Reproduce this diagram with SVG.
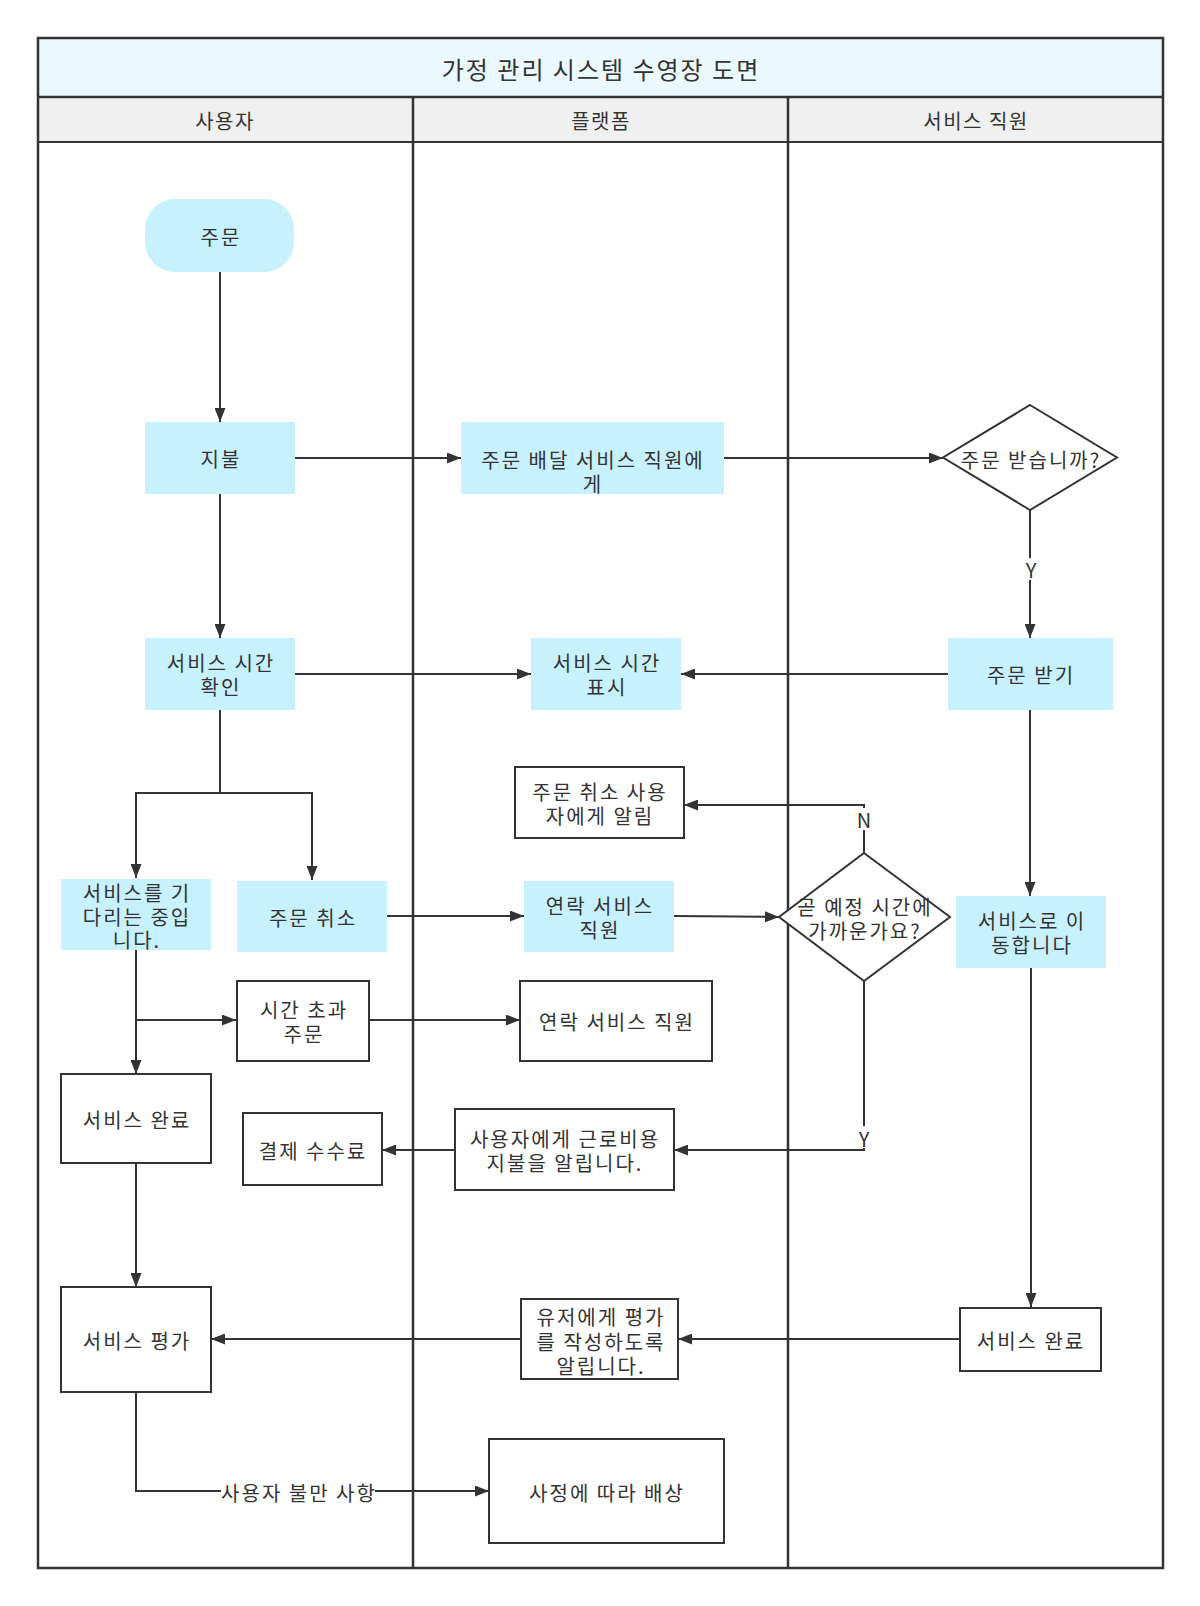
<svg xmlns="http://www.w3.org/2000/svg" width="1200" height="1606" viewBox="0 0 1200 1606">
<defs>
<marker id="ah" viewBox="0 0 14 11" refX="14" refY="5.5" markerWidth="14" markerHeight="11" markerUnits="userSpaceOnUse" orient="auto">
<path d="M0,0 L14,5.5 L0,11 z" fill="#333"/>
</marker>
</defs>
<style>
text{font-family:"Noto Sans CJK KR","Noto Sans",sans-serif;fill:#333;text-anchor:middle;dominant-baseline:central;font-size:20px;letter-spacing:2px}
.t{font-size:24px;letter-spacing:2px}
.h{font-size:20px;letter-spacing:1.5px}
.blue{fill:#c7f1fe;stroke:none}
.box{fill:#fff;stroke:#333;stroke-width:2}
.dia{fill:#fff;stroke:#333;stroke-width:2}
.c{fill:none;stroke:#333;stroke-width:2}
.a{fill:none;stroke:#333;stroke-width:2;marker-end:url(#ah)}
.lbl{fill:#fff;stroke:none}
</style>
<rect width="1200" height="1606" fill="#fff"/>
<g id="pool">
<rect x="38" y="38" width="1125" height="59" fill="#ebf8fd"/>
<rect x="38" y="97" width="1125" height="45" fill="#f0f0f0"/>
<rect x="38" y="38" width="1125" height="1530" fill="none" stroke="#333" stroke-width="2.5"/>
<line x1="38" y1="97" x2="1163" y2="97" stroke="#333" stroke-width="2.5"/>
<line x1="38" y1="142" x2="1163" y2="142" stroke="#333" stroke-width="2"/>
<line x1="413" y1="97" x2="413" y2="1568" stroke="#333" stroke-width="2.5"/>
<line x1="788" y1="97" x2="788" y2="1568" stroke="#333" stroke-width="2.5"/>
<text class="t" x="601" y="68">가정 관리 시스템 수영장 도면</text>
<text class="h" x="225" y="120">사용자</text>
<text class="h" x="601" y="120">플랫폼</text>
<text class="h" x="976" y="120">서비스 직원</text>
</g>
<g id="connectors">
<line class="a" x1="220" y1="272" x2="220" y2="422"/>
<line class="a" x1="295" y1="458" x2="461" y2="458"/>
<line class="a" x1="724" y1="458" x2="943" y2="458"/>
<line class="a" x1="1030" y1="510" x2="1030" y2="638"/>
<rect class="lbl" x="1022" y="558" width="16" height="22"/>
<text x="1032" y="569">Y</text>
<line class="a" x1="220" y1="494" x2="220" y2="638"/>
<line class="a" x1="295" y1="674" x2="531" y2="674"/>
<line class="a" x1="948" y1="674" x2="681" y2="674"/>
<polyline class="c" points="220,710 220,793"/>
<polyline class="a" points="220,793 136,793 136,878"/>
<polyline class="a" points="220,793 312,793 312,880"/>
<line class="a" x1="1030" y1="710" x2="1030" y2="896"/>
<line class="a" x1="387" y1="916" x2="524" y2="916"/>
<line class="a" x1="674" y1="916" x2="779" y2="917"/>
<polyline class="a" points="864,853 864,805 684,805"/>
<rect class="lbl" x="855" y="808" width="18" height="22"/>
<text x="865" y="819">N</text>
<polyline class="a" points="864,981 864,1150 674,1150"/>
<rect class="lbl" x="855" y="1126" width="18" height="22"/>
<text x="865" y="1138">Y</text>
<line class="a" x1="136" y1="950" x2="136" y2="1074"/>
<line class="a" x1="136" y1="1020" x2="236" y2="1020"/>
<line class="a" x1="369" y1="1020" x2="520" y2="1020"/>
<line class="a" x1="455" y1="1150" x2="382" y2="1150"/>
<line class="a" x1="136" y1="1163" x2="136" y2="1287"/>
<line class="a" x1="1031" y1="968" x2="1031" y2="1307"/>
<line class="a" x1="960" y1="1339" x2="678" y2="1339"/>
<line class="a" x1="521" y1="1339" x2="211" y2="1339"/>
<polyline class="a" points="136,1392 136,1491 489,1491"/>
<rect class="lbl" x="221" y="1480" width="154" height="24"/>
<text x="299" y="1492">사용자 불만 사항</text>
</g>
<g id="n-order">
<rect class="blue" x="145" y="199" width="149" height="73" rx="30" ry="30"/>
<text x="221" y="236">주문</text>
</g>
<g id="n-pay">
<rect class="blue" x="145" y="422" width="150" height="72"/>
<text x="221" y="458">지불</text>
</g>
<g id="n-deliver">
<rect class="blue" x="461" y="422" width="263" height="72"/>
<text x="593" y="459">주문 배달 서비스 직원에<tspan x="593" dy="24">게</tspan></text>
</g>
<g id="n-received-q">
<polygon class="dia" points="1030,405 1117,457.5 1030,510 943,457.5"/>
<text x="1031" y="459">주문 받습니까?</text>
</g>
<g id="n-check-time">
<rect class="blue" x="145" y="638" width="150" height="72"/>
<text x="221" y="662">서비스 시간<tspan x="221" dy="24">확인</tspan></text>
</g>
<g id="n-show-time">
<rect class="blue" x="531" y="638" width="150" height="72"/>
<text x="607" y="662">서비스 시간<tspan x="607" dy="24">표시</tspan></text>
</g>
<g id="n-receive">
<rect class="blue" x="948" y="638" width="165" height="72"/>
<text x="1031" y="674">주문 받기</text>
</g>
<g id="n-cancel-notify">
<rect class="box" x="515" y="767" width="169" height="71"/>
<text x="600" y="791">주문 취소 사용<tspan x="600" dy="24">자에게 알림</tspan></text>
</g>
<g id="n-waiting">
<rect class="blue" x="61" y="879" width="150" height="71"/>
<text x="137" y="892">서비스를 기<tspan x="137" dy="23.5">다리는 중입</tspan><tspan x="137" dy="23.5">니다.</tspan></text>
</g>
<g id="n-cancel">
<rect class="blue" x="237" y="881" width="150" height="71"/>
<text x="313" y="917">주문 취소</text>
</g>
<g id="n-contact1">
<rect class="blue" x="524" y="881" width="150" height="71"/>
<text x="600" y="905">연락 서비스<tspan x="600" dy="24">직원</tspan></text>
</g>
<g id="n-near-q">
<polygon class="dia" points="864,853 950,917 864,981 779,917"/>
<text x="865" y="906">곧 예정 시간에<tspan x="865" dy="24">가까운가요?</tspan></text>
</g>
<g id="n-move">
<rect class="blue" x="956" y="896" width="150" height="72"/>
<text x="1032" y="920">서비스로 이<tspan x="1032" dy="24">동합니다</tspan></text>
</g>
<g id="n-timeout">
<rect class="box" x="237" y="981" width="132" height="80"/>
<text x="304" y="1009">시간 초과<tspan x="304" dy="24">주문</tspan></text>
</g>
<g id="n-contact2">
<rect class="box" x="520" y="981" width="192" height="80"/>
<text x="617" y="1021">연락 서비스 직원</text>
</g>
<g id="n-done-user">
<rect class="box" x="61" y="1074" width="150" height="89"/>
<text x="137" y="1119">서비스 완료</text>
</g>
<g id="n-fee">
<rect class="box" x="243" y="1113" width="139" height="72"/>
<text x="313" y="1150">결제 수수료</text>
</g>
<g id="n-labor">
<rect class="box" x="455" y="1109" width="219" height="81"/>
<text x="565" y="1138">사용자에게 근로비용<tspan x="565" dy="24">지불을 알립니다.</tspan></text>
</g>
<g id="n-rate">
<rect class="box" x="61" y="1287" width="150" height="105"/>
<text x="137" y="1340">서비스 평가</text>
</g>
<g id="n-notify-rate">
<rect class="box" x="521" y="1299" width="157" height="80"/>
<text x="601" y="1316">유저에게 평가<tspan x="601" dy="24.5">를 작성하도록</tspan><tspan x="601" dy="24.5">알립니다.</tspan></text>
</g>
<g id="n-done-staff">
<rect class="box" x="960" y="1308" width="141" height="63"/>
<text x="1031" y="1340">서비스 완료</text>
</g>
<g id="n-compensate">
<rect class="box" x="489" y="1439" width="235" height="104"/>
<text x="607" y="1492">사정에 따라 배상</text>
</g>
</svg>
